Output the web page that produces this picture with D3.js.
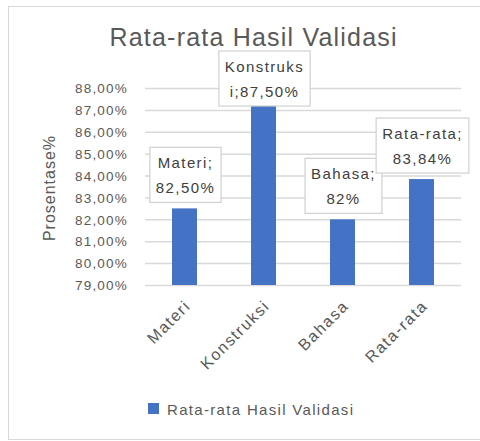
<!DOCTYPE html>
<html><head><meta charset="utf-8">
<script src="https://cdn.jsdelivr.net/npm/d3@7"></script>
<style>html,body{margin:0;padding:0;background:#fff;}svg{display:block;}</style>
</head><body>
<script>
const categories = ["Materi", "Konstruksi", "Bahasa", "Rata-rata"];
const values = [82.5, 87.5, 82.0, 83.84];
const labelLines = [["Materi;", "82,50%"], ["Konstruks", "i;87,50%"], ["Bahasa;", "82%"], ["Rata-rata;", "83,84%"]];
const yTicks = [79, 80, 81, 82, 83, 84, 85, 86, 87, 88];
const title = "Rata-rata Hasil Validasi";
const yTitle = "Prosentase%";
const seriesName = "Rata-rata Hasil Validasi";

const W = 480, H = 441;
const FONT = "'Liberation Sans', Arial, sans-serif";
const svg = d3.select("body").append("svg").attr("width", W).attr("height", H);

svg.append("rect").attr("x", 8.5).attr("y", 6.5).attr("width", 480).attr("height", 433)
  .attr("fill", "#fff").attr("stroke", "#d9d9d9").attr("stroke-width", 1);

const y = d3.scaleLinear().domain([79, 88]).range([285, 88]);
const x = d3.scaleBand().domain(categories).range([145, 461]).paddingInner(0.684).paddingOuter(0.342);

// title
svg.append("text").attr("x", 253).attr("y", 46).attr("text-anchor", "middle")
  .attr("font-family", FONT).attr("font-size", 25).attr("fill", "#595959")
  .attr("textLength", 287).text(title);

// grid
const yAxis = d3.axisLeft(y).tickValues(yTicks).tickSize(-(461 - 145))
  .tickFormat(d => d3.format(".2f")(d).replace(".", ",") + "%");
const ga = svg.append("g").attr("transform", "translate(145,0)").call(yAxis);
ga.select(".domain").remove();
ga.selectAll(".tick line").attr("stroke", "#d9d9d9").attr("stroke-width", 1.5);
ga.selectAll(".tick text").attr("x", -17).attr("dy", "0.35em")
  .attr("font-family", FONT).attr("font-size", 13.5).attr("fill", "#595959")
  .attr("letter-spacing", "1.2px");

// y title
svg.append("text").attr("transform", "translate(55,188) rotate(-90)").attr("text-anchor", "middle")
  .attr("font-family", FONT).attr("font-size", 16).attr("fill", "#595959")
  .attr("letter-spacing", "1px").text(yTitle);

// bars
svg.append("g").selectAll("rect").data(values).join("rect")
  .attr("x", (d, i) => x(categories[i])).attr("width", x.bandwidth())
  .attr("y", d => y(d)).attr("height", d => y(79) - y(d)).attr("fill", "#4472c4");

// x labels
const gx = svg.append("g").attr("transform", "translate(0,285)").call(d3.axisBottom(x).tickSize(0));
gx.select(".domain").remove();
gx.selectAll(".tick text").attr("text-anchor", "end").attr("dy", 0).attr("y", 0)
  .attr("transform", "translate(7,22) rotate(-45)")
  .attr("font-family", FONT).attr("font-size", 16).attr("fill", "#595959")
  .attr("letter-spacing", "1.5px");

// data labels
const lg = svg.append("g").selectAll("g").data(values).join("g");
lg.each(function(d, i) {
  const g = d3.select(this);
  const cx = x(categories[i]) + x.bandwidth() / 2 + 1;
  const box = g.append("rect");
  const texts = g.selectAll("text").data(labelLines[i]).join("text")
    .attr("x", cx).attr("text-anchor", "middle")
    .attr("font-family", FONT).attr("font-size", 15).attr("fill", "#404040")
    .attr("letter-spacing", "1.4px").text(t => t);
  let tw = 0;
  texts.each(function() { tw = Math.max(tw, this.getComputedTextLength()); });
  const bw = tw + 12, bh = 55;
  const top = Math.max(y(d) - 6 - bh, 51);
  box.attr("x", cx - bw / 2).attr("y", top).attr("width", bw).attr("height", bh)
    .attr("fill", "#fff").attr("stroke", "#d0d0d0").attr("stroke-width", 1.2);
  texts.attr("y", (t, j) => top + 21 + j * 25);
});

// legend
svg.append("rect").attr("x", 148).attr("y", 403).attr("width", 11).attr("height", 11).attr("fill", "#4472c4");
svg.append("text").attr("x", 167).attr("y", 415).attr("font-family", FONT).attr("font-size", 15)
  .attr("fill", "#595959").attr("textLength", 186).text(seriesName);
</script>
</body></html>
